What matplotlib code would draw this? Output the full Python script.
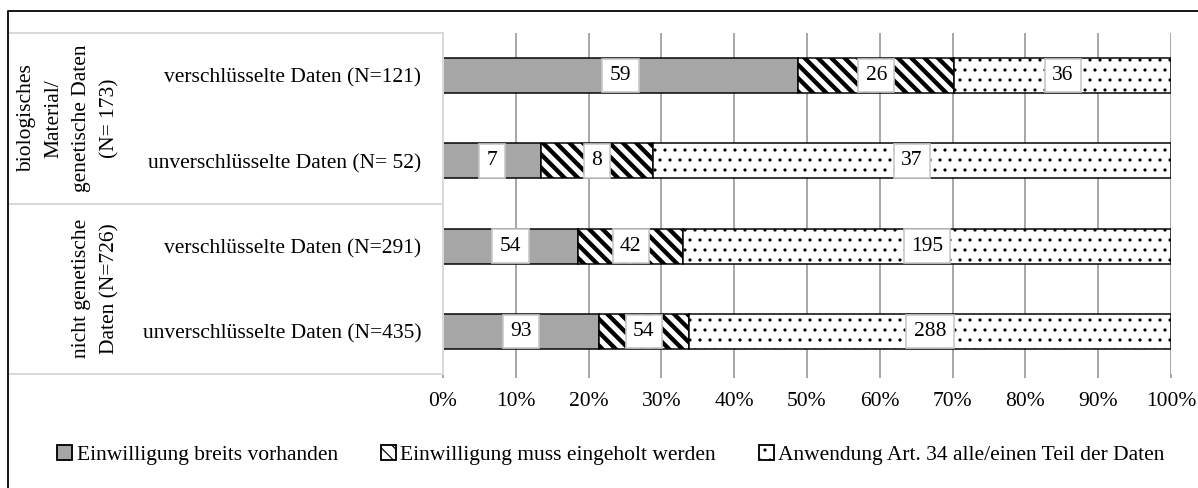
"""
Consent status by data type: 100% stacked horizontal bars with counts.
"""
import numpy as np
import matplotlib
matplotlib.use("Agg")
import matplotlib.pyplot as plt
from matplotlib.patches import Patch
from matplotlib.lines import Line2D

# ── Data ───────────────────────────────────────────────────────────────────
row_labels = ["verschlüsselte Daten (N=121)",
              "unverschlüsselte Daten (N= 52)",
              "verschlüsselte Daten (N=291)",
              "unverschlüsselte Daten (N=435)"]
group_labels = ["biologisches\nMaterial/\ngenetische Daten\n(N= 173)",
                "nicht genetische\nDaten (N=726)"]
group_rows = [2, 2]

series_names = ["Einwilligung breits vorhanden",
                "Einwilligung muss eingeholt werden",
                "Anwendung Art. 34 alle/einen Teil der Daten"]
vorhanden = [59, 7, 54, 93]
einholen = [26, 8, 42, 54]
art34 = [36, 37, 195, 288]

x_ticks = [0, 10, 20, 30, 40, 50, 60, 70, 80, 90, 100]

# ── Style ──────────────────────────────────────────────────────────────────
W, H, DPI = 1198, 488, 120
FS = 12.9
GRID = "#a9a9a9"
TABLE = "#d9d9d9"
plt.rcParams["font.family"] = ["Liberation Serif", "DejaVu Serif"]
plt.rcParams["font.size"] = FS

styles = [dict(facecolor="#a6a6a6", hatch=None, hlw=1.0),
          dict(facecolor="white", hatch="\\\\\\", hlw=2.6),
          dict(facecolor="white", hatch="..", hlw=0.7)]

counts = np.array([vorhanden, einholen, art34], dtype=float)
totals = counts.sum(axis=0)
pct = counts / totals * 100
y = np.arange(len(row_labels))

fig = plt.figure(figsize=(W / DPI, H / DPI), dpi=DPI, facecolor="white")
ax = fig.add_axes([443 / W, 1 - 374 / H, 728 / W, 341 / H])

left = np.zeros(len(y))
for k in range(3):
    st = styles[k]
    plt.rcParams["hatch.linewidth"] = st["hlw"]
    bars = ax.barh(y, pct[k], left=left, height=0.41,
                   color=st["facecolor"], edgecolor="black", linewidth=0.9,
                   hatch=st["hatch"], zorder=2)
    for b in bars:
        if hasattr(b, "set_hatch_linewidth"):
            b.set_hatch_linewidth(st["hlw"])
    ax.bar_label(bars, labels=[f"{int(v)}" for v in counts[k]],
                 label_type="center", fontsize=FS, zorder=4,
                 bbox=dict(boxstyle="square,pad=0.34", facecolor="white",
                           edgecolor="#c8c8c8", linewidth=1.0))
    left += pct[k]

ax.set_xlim(0, 100)
ax.set_ylim(len(y) - 0.5, -0.5)
ax.set_xticks(x_ticks)
ax.set_xticklabels([f"{t}%" for t in x_ticks])
ax.set_yticks(y)
ax.set_yticklabels(row_labels)
ax.tick_params(axis="y", length=0, pad=13)
ax.tick_params(axis="x", length=2.6, width=1.2, color=GRID, pad=8)
ax.grid(axis="x", color=GRID, linewidth=1.2, zorder=0)
ax.set_axisbelow(True)
for s in ["top", "right", "bottom"]:
    ax.spines[s].set_visible(False)
ax.spines["left"].set_color(TABLE)
ax.spines["left"].set_linewidth(1.2)
ax.spines["left"].set_zorder(3)

# ── Left table with group labels ──────────────────────────────────────────
tr = ax.get_yaxis_transform()
x_tab = (10 - 443) / 728
bounds = np.concatenate([[0], np.cumsum(group_rows)]) - 0.5
for b in bounds:
    ax.plot([x_tab, 0], [b, b], transform=tr, color=TABLE, lw=1.2,
            clip_on=False, zorder=3)
for g, lab in enumerate(group_labels):
    yc = (bounds[g] + bounds[g + 1]) / 2
    ax.text((119 - 443) / 728, yc, lab, transform=tr, rotation=90,
            ha="right", va="center", multialignment="center",
            linespacing=1.6, fontsize=FS)

# ── Outer frame (cropped at right/bottom) ─────────────────────────────────
fig.add_artist(Line2D([8 / W, 8 / W, 1.0], [0.0, 1 - 11 / H, 1 - 11 / H],
                      transform=fig.transFigure, color="#1a1a1a", lw=1.2))

# ── Legend ────────────────────────────────────────────────────────────────
handles = []
for k in range(3):
    st = styles[k]
    plt.rcParams["hatch.linewidth"] = st["hlw"]
    handles.append(Patch(facecolor=st["facecolor"], edgecolor="black",
                         linewidth=1.1, hatch=st["hatch"]))
fig.legend(handles, series_names, loc="center",
           bbox_to_anchor=(611 / W, 1 - 455 / H), ncol=3, frameon=False,
           fontsize=FS, handlelength=0.7, handleheight=0.7,
           handletextpad=0.2, columnspacing=2.0, borderaxespad=0)

plt.savefig("out.png", dpi=DPI, facecolor="white")
